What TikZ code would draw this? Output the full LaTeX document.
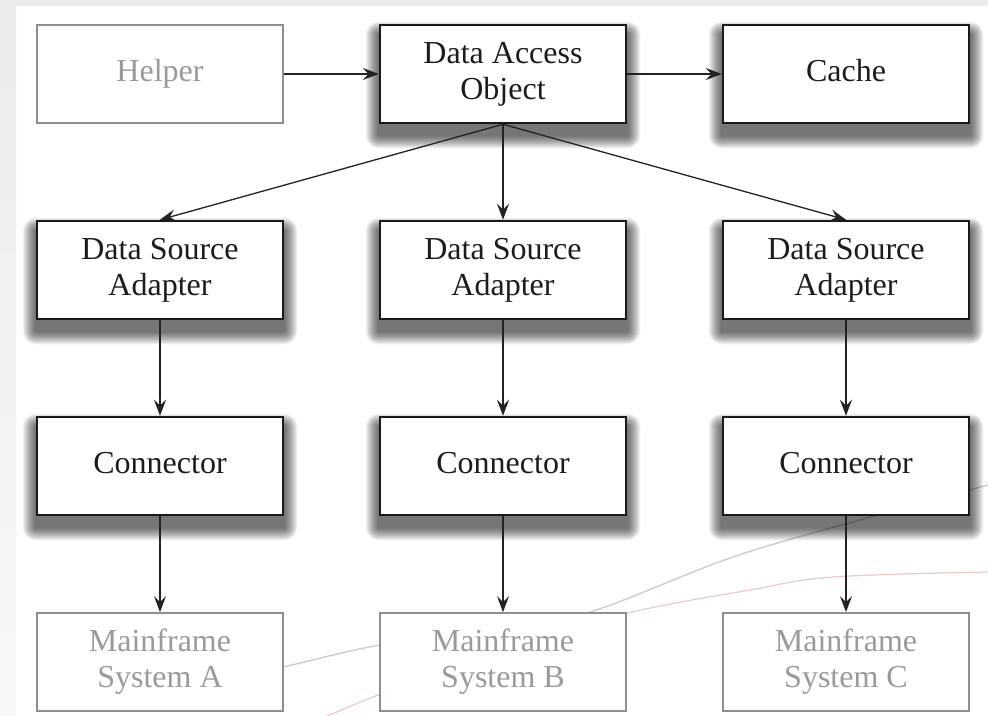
\documentclass[tikz,border=0pt]{standalone}
\usepackage{fontspec}
\setmainfont{Liberation Serif}
\usetikzlibrary{arrows.meta}

\definecolor{pagegray}{HTML}{EBEBEB}
\definecolor{stripbottom}{HTML}{F8F8F8}
\definecolor{boxblack}{HTML}{1A1A1A}
\definecolor{textblack}{HTML}{1C1C1C}
\definecolor{boxgray}{HTML}{8E8E8E}
\definecolor{textgray}{HTML}{9A9A9A}
\definecolor{arrowcol}{HTML}{222222}
\definecolor{swooshgray}{HTML}{CCCCCC}
\definecolor{swooshred}{HTML}{EBC9C9}

\pgfdeclarelayer{pagelayer}
\pgfdeclarelayer{shadowlayer}
\pgfsetlayers{pagelayer,shadowlayer,main}

\tikzset{
  box/.style={rectangle, minimum width=246pt, minimum height=98pt,
    inner sep=0pt, fill=white, align=center,
    font=\fontsize{32}{36}\selectfont},
  mainbox/.style={box, draw=boxblack, line width=2.5pt, text=textblack},
  sidebox/.style={box, draw=boxgray, line width=1.8pt, text=textgray},
  oneline/.style={text depth=7pt},
  flow/.style={draw=arrowcol, line width=1.3pt,
    -{Stealth[length=16pt, width=12pt, inset=6pt]}},
  softshade/.style={fill=black, opacity=0.055},
}

\begin{document}
\begin{tikzpicture}[x=1pt, y=-1pt]
  \useasboundingbox (0,0) rectangle (988,715);

  \begin{pgfonlayer}{pagelayer}
    % page background with grey margins
    \fill[white] (0,0) rectangle (988,715);
    \fill[pagegray] (0,0) rectangle (988,6);
    \shade[top color=pagegray, bottom color=stripbottom] (0,6) rectangle (16,715);

    % faint decorative swooshes behind the boxes
    \draw[swooshgray, line width=1.4pt] plot[smooth, tension=0.6]
      coordinates {(150,697) (283,667) (380,645) (500,628) (590,612) (733,557) (867,518) (988,485)};
    \draw[swooshred, line width=1.2pt] plot[smooth, tension=0.6]
      coordinates {(300,728) (378,695) (500,650) (628,613) (750,590) (833,577) (988,572)};
  \end{pgfonlayer}

  % top row
  \node[sidebox] (helper) at (160,74) {Helper};
  \node[mainbox] (dao) at (503,74) {Data Access\\Object};
  \node[mainbox, oneline] (cache) at (846,74) {Cache};

  % adapters
  \node[mainbox] (dsaA) at (160,270) {Data Source\\Adapter};
  \node[mainbox] (dsaB) at (503,270) {Data Source\\Adapter};
  \node[mainbox] (dsaC) at (846,270) {Data Source\\Adapter};

  % connectors
  \node[mainbox, oneline] (conA) at (160,466) {Connector};
  \node[mainbox, oneline] (conB) at (503,466) {Connector};
  \node[mainbox, oneline] (conC) at (846,466) {Connector};

  % mainframes
  \node[sidebox] (mfA) at (160,662) {Mainframe\\System A};
  \node[sidebox] (mfB) at (503,662) {Mainframe\\System B};
  \node[sidebox] (mfC) at (846,662) {Mainframe\\System C};

  % soft drop shadows under the black-framed boxes
  \begin{pgfonlayer}{shadowlayer}
    \foreach \n in {dao,cache,dsaA,dsaB,dsaC,conA,conB,conC}{
      \foreach \k in {0,...,12}{
        \pgfmathsetmacro{\d}{13-\k}
        \fill[softshade, rounded corners=\d pt]
          ([xshift=-\d pt, yshift=-11pt-\d pt]\n.south west)
          rectangle ([xshift=\d pt, yshift=-11pt+\d pt]\n.north east);
      }
    }
  \end{pgfonlayer}

  % connections
  \draw[flow] (helper) -- (dao);
  \draw[flow] (dao) -- (cache);
  \draw[flow] (dao.south) -- (dsaA.north);
  \draw[flow] (dao.south) -- (dsaB.north);
  \draw[flow] (dao.south) -- (dsaC.north);
  \draw[flow] (dsaA) -- (conA);
  \draw[flow] (dsaB) -- (conB);
  \draw[flow] (dsaC) -- (conC);
  \draw[flow] (conA) -- (mfA);
  \draw[flow] (conB) -- (mfB);
  \draw[flow] (conC) -- (mfC);
\end{tikzpicture}
\end{document}
